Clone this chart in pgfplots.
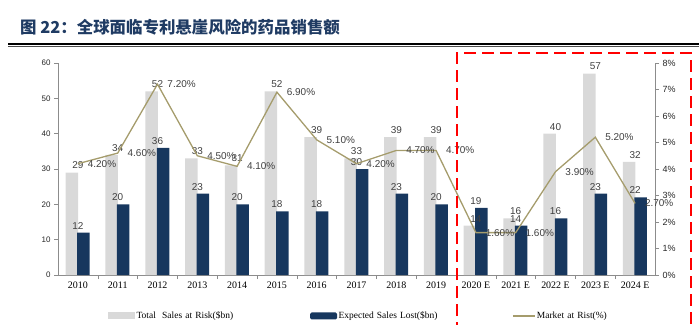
\documentclass[border=0pt]{standalone}
\usepackage{fontspec}
\setmainfont{Liberation Sans}
\newfontfamily\seriffont{Liberation Serif}
\newfontfamily\cjk{Noto Sans CJK SC}
\usepackage{pgfplots}
\pgfplotsset{compat=1.18}
\definecolor{lightbar}{HTML}{D9D9D9}
\definecolor{darkbar}{HTML}{17375E}
\definecolor{olivel}{HTML}{A59C6C}
\definecolor{titleblue}{HTML}{1F3B63}
\definecolor{axisgray}{HTML}{8C8C8C}
\definecolor{labelgray}{HTML}{404040}
\begin{document}
\begin{tikzpicture}[x=1bp,y=1bp]
\path[use as bounding box] (0,0) rectangle (699,324);
% title
\node[anchor=west, font=\cjk\bfseries\fontsize{16.5}{18}\selectfont, text=titleblue, inner sep=0pt] at (20,297) {图 22：全球面临专利悬崖风险的药品销售额};
\draw[line width=2bp] (8,280.5) -- (699,280.5);
\draw[line width=0.5bp, black!70] (8,277.8) -- (699,277.8);
\begin{axis}[
  at={(58bp,49bp)}, anchor=south west,
  width=597bp, height=212bp, scale only axis,
  xmin=-0.5, xmax=14.5, ymin=0, ymax=60,
  axis x line*=bottom, axis y line*=left,
  axis line style={axisgray, line width=0.8bp},
  /pgf/number format/assume math mode=true,
  ytick={0,10,...,60},
  tick align=outside, tick pos=left,
  major tick length=4bp,
  tick style={axisgray, line width=0.6bp},
  yticklabel style={font=\fontsize{8}{9}\selectfont, text=black!85},
  xtick={0.5,1.5,...,13.5}, xticklabels={},
  extra x ticks={0,1,...,14},
  extra x tick labels={2010,2011,2012,2013,2014,2015,2016,2017,2018,2019,2020 E,2021 E,2022 E,2023 E,2024 E},
  extra x tick style={major tick length=0pt, xticklabel style={font=\seriffont\fontsize{10}{11}\selectfont, text=black, yshift=-3bp}},
  legend style={at={(axis description cs:0.0836,-0.193)}, anchor=west, draw=none, fill=none,
    inner sep=0pt, column sep=0pt, font=\seriffont\fontsize{9.5}{10}\selectfont,
    nodes={text width=172bp, align=left, inner sep=1.5bp}},
  legend columns=3,
]
\addplot[ybar, bar width=12.5bp, bar shift=-6bp, fill=lightbar, draw=none,
  nodes near coords, every node near coord/.append style={font=\fontsize{10}{12}\selectfont, text=labelgray},
  legend image code/.code={\fill[lightbar] (0bp,-3.5bp) rectangle (27bp,3.5bp);}]
 coordinates {(0,29) (1,34) (2,52) (3,33) (4,31) (5,52) (6,39) (7,33) (8,39) (9,39) (10,14) (11,16) (12,40) (13,57) (14,32)};
\addlegendentry{Total\ \ Sales at Risk(\$bn)}
\addplot[ybar, bar width=12.5bp, bar shift=5.5bp, fill=darkbar, draw=none,
  nodes near coords, every node near coord/.append style={font=\fontsize{10}{12}\selectfont, text=labelgray},
  legend image code/.code={\fill[darkbar, rounded corners=1.5bp] (0bp,-3.5bp) rectangle (27bp,3.5bp);}]
 coordinates {(0,12) (1,20) (2,36) (3,23) (4,20) (5,18) (6,18) (7,30) (8,23) (9,20) (10,19) (11,14) (12,16) (13,23) (14,22)};
\addlegendentry{Expected Sales Lost(\$bn)}
\addlegendimage{legend image code/.code={\draw[olivel, line width=1.3bp] (0bp,0bp) -- (22bp,0bp);}}
\addlegendentry{Market at Rist(\%)}
\end{axis}
\begin{axis}[
  at={(58bp,49bp)}, anchor=south west,
  width=597bp, height=212bp, scale only axis,
  xmin=-0.5, xmax=14.5, ymin=0, ymax=8,
  axis x line=none, axis y line*=right,
  axis line style={axisgray, line width=0.8bp},
  /pgf/number format/assume math mode=true,
  ytick={0,1,...,8},
  yticklabel={\pgfmathprintnumber{\tick}\%},
  tick align=outside,
  major tick length=4bp,
  tick style={axisgray, line width=0.6bp},
  yticklabel style={font=\fontsize{9}{10}\selectfont, text=black!85},
]
\addplot[olivel, line width=1.3bp, mark=none,
  nodes near coords={\pgfmathprintnumber[fixed,fixed zerofill,precision=2]{\pgfplotspointmeta}\%},
  every node near coord/.append style={anchor=west, xshift=6bp, font=\fontsize{10}{12}\selectfont, text=labelgray}]
 coordinates {(0,4.2) (1,4.6) (2,7.2) (3,4.5) (4,4.1) (5,6.9) (6,5.1) (7,4.2) (8,4.7) (9,4.7) (10,1.6) (11,1.6) (12,3.9) (13,5.2) (14,2.7)};
\end{axis}
\draw[red, line width=2.7bp, dash pattern=on 12bp off 6bp] (457,-10) -- (457,271) -- (691,271) -- (691,-10);
\end{tikzpicture}
\end{document}
